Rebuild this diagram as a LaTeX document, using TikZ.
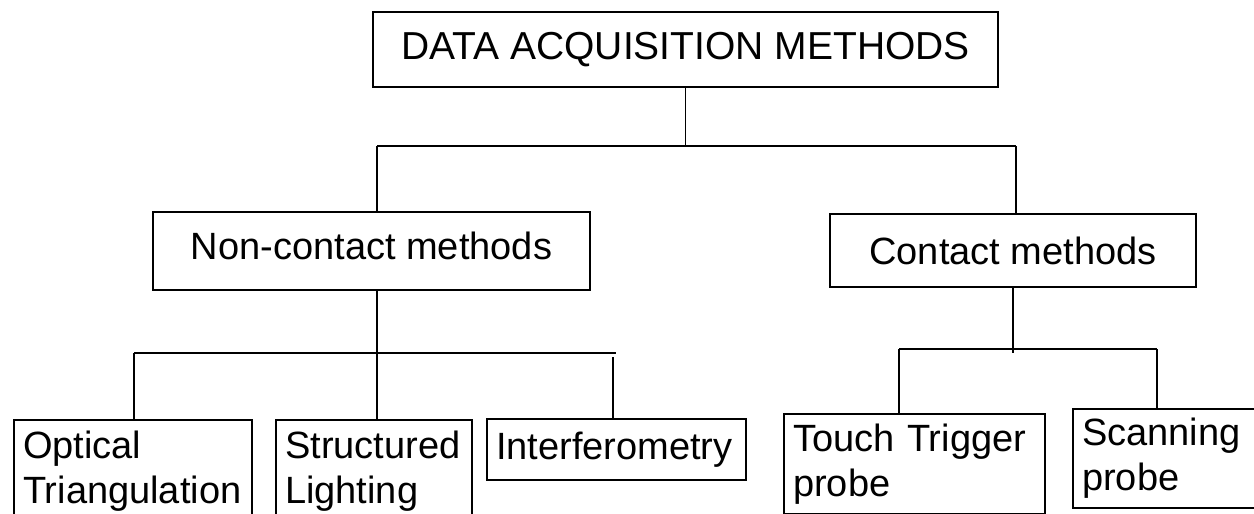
\documentclass[tikz,border=0pt]{standalone}
\usepackage{fontspec}
\setmainfont{Liberation Sans}
\begin{document}
\begin{tikzpicture}[x=1pt, y=-1pt, line width=1.6pt,
    box/.style={draw, rectangle, line width=2.2pt, inner sep=0pt,
        font=\fontsize{38}{45}\selectfont},
    leaf/.style={box, align=left, inner xsep=9pt, text width=#1, anchor=north west}]
    \useasboundingbox (0,0) rectangle (1254,514);

    \node[box, minimum width=625, minimum height=75, font=\fontsize{39}{45}\selectfont] (dam) at (685.5,49.5) {DATA ACQUISITION METHODS};
    \node[box, minimum width=437, minimum height=78, text depth=10pt] (noncontact) at (371.5,251) {Non-contact methods};
    \node[box, minimum width=366, minimum height=73] (contact) at (1013,250.5) {Contact methods};

    \node[leaf=220, minimum height=103] (optical) at (13,419) {Optical\\Triangulation};
    \node[leaf=178, minimum height=103] (structured) at (275,419) {Structured\\Lighting};
    \node[leaf=241, minimum height=61] (interf) at (486,418) {Interferometry};
    \node[leaf=243, minimum height=100] (touch) at (783,413) {Touch Trigger\\probe};
    \node[leaf=180, minimum height=99] (scanning) at (1072,408) {Scanning\\probe};

    % first level
    \coordinate (busA) at (377,146);
    \coordinate (busB) at (1016,146);
    \draw (dam.south) -- (dam.south |- busA);
    \draw (busA) -- (busB);
    \draw (busA) -- (busA |- noncontact.north);
    \draw (busB) -- (busB |- contact.north);

    % non-contact branch
    \coordinate (busC) at (134,353);
    \coordinate (busD) at (616,353);
    \coordinate (dropI) at (613,357);
    \draw (busC) -- (busD);
    \draw (noncontact.south -| busA) -- (busA |- structured.north);
    \draw (busC) -- (busC |- optical.north);
    \draw (dropI) -- (dropI |- interf.north);

    % contact branch
    \coordinate (busE) at (899,349);
    \coordinate (busF) at (1157,349);
    \draw (contact.south) -- (contact.south |- busC);
    \draw (busE) -- (busF);
    \draw (busE) -- (busE |- touch.north);
    \draw (busF) -- (busF |- scanning.north);
\end{tikzpicture}
\end{document}
